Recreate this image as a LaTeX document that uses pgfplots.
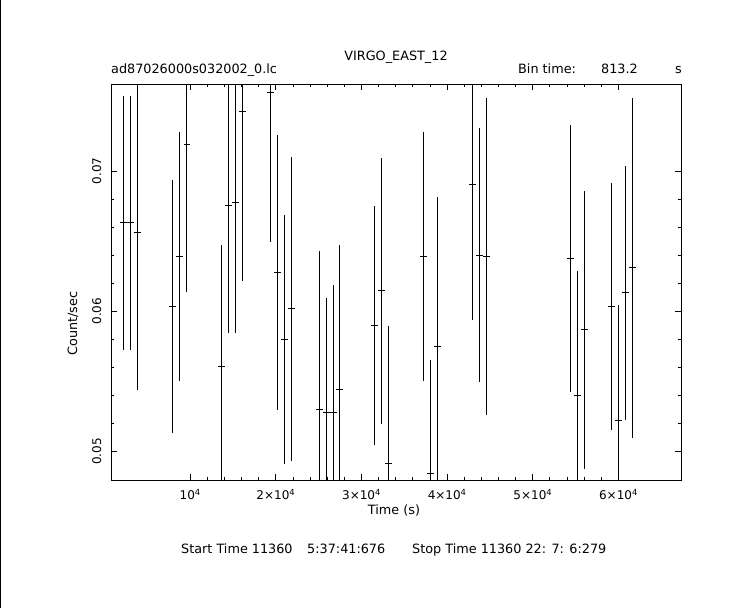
\documentclass[border=0pt]{standalone}
\usepackage{fontspec}
\setmainfont{DejaVu Sans}
\usepackage{pgfplots}
\usepackage{pgfplotstable}
\pgfplotsset{compat=1.18}

% light curve bins: time, rate, half bin, 1-sigma error
\pgfplotstableread{
x      y        xe    ye
2218   0.06631  407   0.00904
3035   0.06631  407   0.00904
3852   0.06560  407   0.01121
7938   0.06034  407   0.00900
8756   0.06391  407   0.00889
9619   0.07191  407   0.01055
13705  0.05603  407   0.00866
14476  0.06753  407   0.00910
15293  0.06774  407   0.00931
16110  0.07424  407   0.01205
19379  0.07557  407   0.01064
20196  0.06274  407   0.00980
21013  0.05796  407   0.00887
21877  0.06017  407   0.01086
25099  0.05296  407   0.01131
25916  0.05281  407   0.00811
26733  0.05276  407   0.00914
27434  0.05439  407   0.01031
31520  0.05898  407   0.00851
32337  0.06146  407   0.00950
33154  0.04917  407   0.00981
37240  0.06391  407   0.00885
38104  0.04846  407   0.00809
38874  0.05746  407   0.01069
42960  0.06903  407   0.00964
43778  0.06398  407   0.00906
44595  0.06391  407   0.01129
54401  0.06374  407   0.00953
55218  0.05396  407   0.00888
56035  0.05867  407   0.00994
59234  0.06034  407   0.00879
60004  0.05224  407   0.00824
60822  0.06131  407   0.00905
61639  0.06310  407   0.01214
}\lcdata

\begin{document}
\begin{tikzpicture}[font=\fontsize{12.8bp}{15bp}\selectfont]
\path (0,0) rectangle (743bp,607bp);
\draw[line width=1bp] (0.5bp,0) -- (0.5bp,607bp);

\begin{axis}[
    at={(111bp,127bp)}, anchor=south west,
    scale only axis,
    width=570bp, height=396bp,
    xmin=747, xmax=67300,
    ymin=0.04793, ymax=0.07617,
    axis line style={line width=1bp},
    tick style={line width=1bp, black},
    tick align=inside,
    major tick length=6bp,
    minor tick length=3bp,
    xtick={10000,20000,30000,40000,50000,60000},
    xticklabels={10\textsuperscript{4}, 2×10\textsuperscript{4}, 3×10\textsuperscript{4},
                 4×10\textsuperscript{4}, 5×10\textsuperscript{4}, 6×10\textsuperscript{4}},
    minor x tick num=4,
    ytick={0.05,0.06,0.07},
    yticklabels={0.05,0.06,0.07},
    minor y tick num=4,
    xticklabel style={font=\fontsize{12bp}{14bp}\selectfont, anchor=base, yshift=-19bp},
    yticklabel style={font=\fontsize{12bp}{14bp}\selectfont, xshift=-10bp, rotate=90, anchor=base},
    scaled ticks=false,
  ]
  \addplot[draw=none, mark=none,
           error bars/.cd, x dir=both, x explicit, y dir=both, y explicit,
           error mark=none, error bar style={line width=1bp, black}]
    table[x=x, y=y, x error=xe, y error=ye] {\lcdata};
\end{axis}

\node[anchor=base] at (396bp,547bp) {VIRGO\_EAST\_12};
\node[anchor=base west, inner sep=0pt] at (111bp,534bp) {ad87026000s032002\_0.lc};
\node[anchor=base west, inner sep=0pt] at (518bp,534bp) {Bin time:};
\node[anchor=base east, inner sep=0pt] at (638bp,534bp) {813.2};
\node[anchor=base east, inner sep=0pt] at (682bp,534bp) {s};
\node[anchor=base, inner sep=0pt] at (394bp,93bp) {Time (s)};
\node[rotate=90, anchor=base, inner sep=0pt] at (77bp,284bp) {Count/sec};
\node[anchor=base west, inner sep=0pt] at (181bp,54bp) {Start Time 11360};
\node[anchor=base west, inner sep=0pt] at (307bp,54bp) {5:37:41:676};
\node[anchor=base west, inner sep=0pt] at (412bp,54bp) {Stop Time 11360 22: 7: 6:279};
\end{tikzpicture}
\end{document}
